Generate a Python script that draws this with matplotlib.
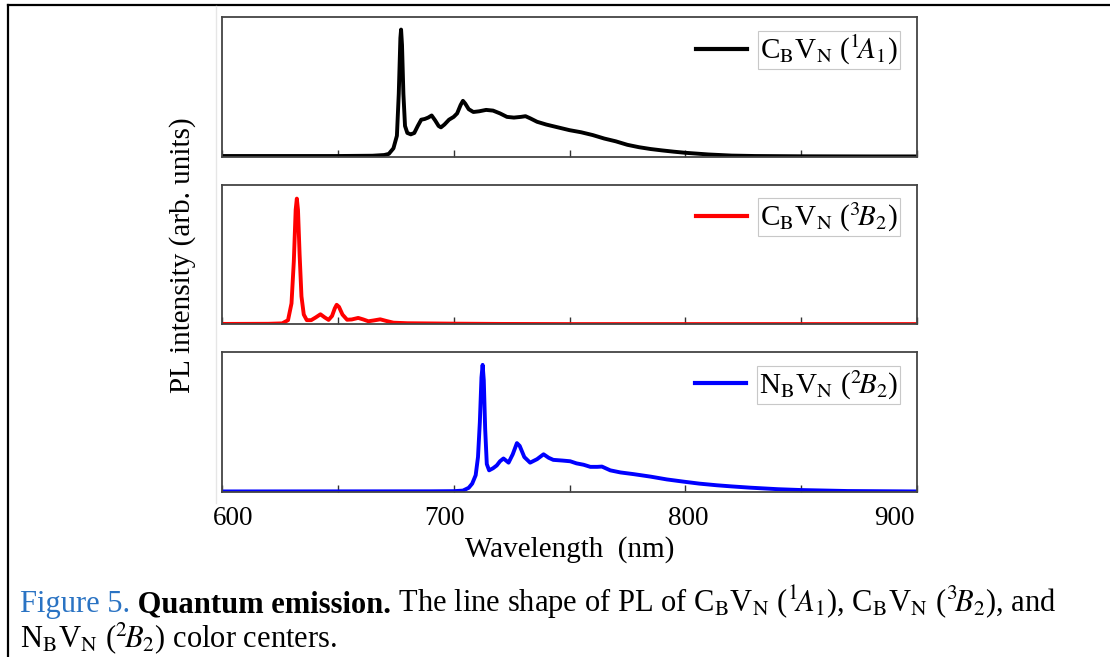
import matplotlib
matplotlib.use('Agg')
import matplotlib.pyplot as plt
import matplotlib.transforms as mtransforms
from matplotlib.lines import Line2D

plt.rcParams['font.family'] = ['Liberation Serif', 'DejaVu Serif']
plt.rcParams['mathtext.fontset'] = 'stix'

# ---- data (wavelength in nm, intensity normalised to panel height)
wl_cbvn_1a1 = [600, 650, 665, 670, 672, 674, 675.5, 676.3, 677.0, 677.3, 677.7, 678.3, 679.0, 680,
               681.5, 683, 684.5, 686, 687.5, 689, 690.5, 692, 693.5, 694.5, 696, 698, 700, 701.5,
               703, 704, 705, 706.5, 708.5, 711, 714, 717, 720, 723, 726, 729, 731, 733, 736, 740,
               745, 750, 755, 760, 765, 770, 775, 780, 785, 790, 795, 800, 810, 820, 830, 850, 880, 900]
pl_cbvn_1a1 = [0.005, 0.005, 0.007, 0.012, 0.02, 0.06, 0.15, 0.45, 0.85, 0.91, 0.80, 0.45, 0.22, 0.17,
               0.16, 0.17, 0.22, 0.265, 0.27, 0.28, 0.295, 0.26, 0.22, 0.21, 0.23, 0.265, 0.285, 0.31,
               0.37, 0.40, 0.38, 0.34, 0.32, 0.325, 0.335, 0.33, 0.31, 0.285, 0.28, 0.285, 0.29, 0.275,
               0.25, 0.23, 0.21, 0.19, 0.175, 0.155, 0.13, 0.11, 0.085, 0.068, 0.055, 0.045, 0.036,
               0.028, 0.016, 0.008, 0.005, 0.003, 0.002, 0.002]

wl_cbvn_3b2 = [600, 620, 626, 628.5, 630, 631, 631.8, 632.3, 632.8, 633.5, 634.3, 635.3, 636.6, 638.5,
               640.5, 642.5, 644.3, 646, 647.5, 648.7, 649.5, 650.5, 652, 654, 656, 658.8, 661, 663.2,
               665.5, 668.3, 671, 674, 680, 700, 720, 750, 900]
pl_cbvn_3b2 = [0.003, 0.004, 0.007, 0.03, 0.15, 0.45, 0.82, 0.90, 0.82, 0.50, 0.20, 0.07, 0.03, 0.03,
               0.05, 0.072, 0.05, 0.032, 0.06, 0.115, 0.14, 0.125, 0.07, 0.033, 0.035, 0.046, 0.035,
               0.022, 0.028, 0.036, 0.024, 0.012, 0.008, 0.005, 0.003, 0.002, 0.002]

wl_nbvn_2b2 = [600, 690, 700, 704, 706.5, 708, 709.5, 710.5, 711.3, 712, 712.5, 713.0, 713.6, 714.3,
               715.3, 717, 718.6, 720, 721.5, 723.7, 725.5, 727.3, 728.5, 730.5, 733, 736, 738.8, 741,
               743, 747, 750.3, 753, 756.1, 759, 762, 764, 767.6, 772, 777.6, 785, 792, 799.3, 806,
               813.7, 820, 828, 840, 850, 870, 900]
pl_nbvn_2b2 = [0.004, 0.005, 0.006, 0.01, 0.03, 0.06, 0.12, 0.25, 0.5, 0.82, 0.91, 0.80, 0.45, 0.20,
               0.155, 0.17, 0.19, 0.22, 0.24, 0.21, 0.27, 0.35, 0.33, 0.25, 0.21, 0.235, 0.27, 0.245,
               0.23, 0.225, 0.22, 0.205, 0.195, 0.18, 0.18, 0.182, 0.155, 0.14, 0.128, 0.11, 0.09,
               0.074, 0.06, 0.048, 0.04, 0.031, 0.02, 0.014, 0.007, 0.004]

series = [
    (wl_cbvn_1a1, pl_cbvn_1a1, 'black', r'C$_{\mathrm{B}}$V$_{\mathrm{N}}$ ($^{1}\!A_{1}$)'),
    (wl_cbvn_3b2, pl_cbvn_3b2, 'red', r'C$_{\mathrm{B}}$V$_{\mathrm{N}}$ ($^{3}\!B_{2}$)'),
    (wl_nbvn_2b2, pl_nbvn_2b2, 'blue', r'N$_{\mathrm{B}}$V$_{\mathrm{N}}$ ($^{2}\!B_{2}$)'),
]
major_ticks = [600, 700, 800, 900]
minor_ticks = [650, 750, 850]
label_shift_px = [11, -9, 3, -23]   # tick labels in the reference sit a bit off their ticks

W, H = 1110, 657
fig, axes = plt.subplots(3, 1, figsize=(W / 100, H / 100), dpi=100, sharex=True)
fig.subplots_adjust(left=222 / W, right=917 / W, top=1 - 17 / H, bottom=1 - 492 / H, hspace=0.2)

for ax, (x, y, col, lab) in zip(axes, series):
    ax.plot(x, y, color=col, lw=2.8, label=lab, solid_joinstyle='round')
    ax.set_xlim(600, 900)
    ax.set_ylim(0, 1)
    ax.set_yticks([])
    ax.set_xticks(major_ticks)
    ax.set_xticks(minor_ticks, minor=True)
    ax.tick_params(axis='x', which='both', direction='in', length=5, width=1, color='#333333',
                   labelsize=19.5, pad=10)
    for sp in ax.spines.values():
        sp.set_color('#444444')
        sp.set_linewidth(1.3)
    leg = ax.legend(loc='upper right', bbox_to_anchor=(1 - 19 / 695, 1 - 16 / 139), frameon=False,
                    handlelength=1.75, handletextpad=0.45, borderaxespad=0, borderpad=0, fontsize=21)
    for ln in leg.get_lines():
        ln.set_linewidth(3)
    for t in leg.get_texts():
        t.set_bbox(dict(boxstyle='square,pad=0.08', facecolor='white', edgecolor='#c8c8c8', linewidth=0.8))

for lbl, dx in zip(axes[-1].get_xticklabels(), label_shift_px):
    lbl.set_transform(lbl.get_transform() + mtransforms.ScaledTranslation(dx / 100, 0, fig.dpi_scale_trans))

axes[-1].set_xlabel('Wavelength  (nm)', fontsize=21, labelpad=4)
fig.text(183 / W, 1 - 255 / H, 'PL intensity (arb. units)', rotation=90, ha='center', va='center', fontsize=21)

# page frame seen in the reference
fig.add_artist(Line2D([8 / W, 8 / W], [0, 1 - 5 / H], color='black', lw=1.6))
fig.add_artist(Line2D([8 / W, 1], [1 - 5 / H, 1 - 5 / H], color='black', lw=1.6))
fig.add_artist(Line2D([216 / W, 216 / W], [1 - 503 / H, 1 - 6 / H], color='#e6e6e6', lw=1))

# caption, built piece by piece
renderer = fig.canvas.get_renderer()
cap_size = 22
line1 = [
    ('Figure 5.', '#2a73c3', 'normal'),
    (' Quantum emission.', 'black', 'bold'),
    (r' The line shape of PL of C$_{\mathrm{B}}$V$_{\mathrm{N}}$ ($^{1}\!A_{1}$), '
     r'C$_{\mathrm{B}}$V$_{\mathrm{N}}$ ($^{3}\!B_{2}$), and', 'black', 'normal'),
]
line2 = [(r'N$_{\mathrm{B}}$V$_{\mathrm{N}}$ ($^{2}\!B_{2}$) color centers.', 'black', 'normal')]
for pieces, ybase in [(line1, 1 - 612 / H), (line2, 1 - 647 / H)]:
    xpos = 20 / W
    for txt, col, wt in pieces:
        t = fig.text(xpos, ybase, txt, color=col, fontweight=wt, fontsize=cap_size, va='baseline')
        xpos = t.get_window_extent(renderer).x1 / W

fig.savefig('out.png', dpi=100)
